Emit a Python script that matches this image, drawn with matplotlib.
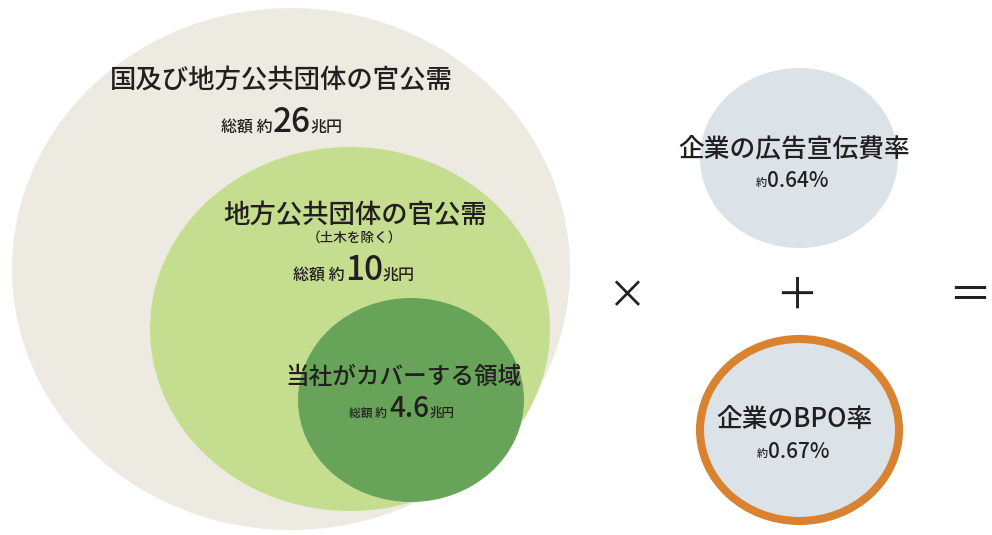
import matplotlib
matplotlib.use("Agg")
import matplotlib.pyplot as plt
from matplotlib.patches import Ellipse

plt.rcParams['font.family'] = ['Noto Sans CJK JP', 'DejaVu Sans']
plt.rcParams['font.weight'] = 'medium'

# market sizes (trillion yen) and rates (%)
market_names = ["国及び地方公共団体の官公需", "地方公共団体の官公需", "当社がカバーする領域"]
market_notes = ["", "（土木を除く）", ""]
market_totals = [26, 10, 4.6]
rate_names = ["企業の広告宣伝費率", "企業のBPO率"]
rate_values = [0.64, 0.67]

TEXT = "#231f20"

# nested market circles: (cx, cy, rx, ry, colour)
market_circles = [
    (291, 269, 279, 261, "#edebe1"),
    (350, 329, 200, 182, "#c5dd8e"),
    (411, 400, 113, 102, "#68a35a"),
]

fig = plt.figure(figsize=(9.92, 5.35), dpi=100)
ax = fig.add_axes([0, 0, 1, 1])
ax.set_xlim(0, 992)
ax.set_ylim(535, 0)
ax.axis("off")

for cx, cy, rx, ry, col in market_circles:
    ax.add_patch(Ellipse((cx, cy), 2 * rx, 2 * ry, facecolor=col, edgecolor="none"))

# rate circles
ax.add_patch(Ellipse((799, 158), 198, 180, facecolor="#dce3e8", edgecolor="none"))
ax.add_patch(Ellipse((799.5, 430), 199, 182, facecolor="#dce3e8",
                     edgecolor="#d9822f", linewidth=5.8))

renderer = fig.canvas.get_renderer()


def draw_runs(x, y, runs):
    # runs: list of (text, fontsize); laid out on one baseline, centred on x
    texts = [ax.text(0, y, s, fontsize=fs, ha="left", va="baseline", color=TEXT)
             for s, fs in runs]
    widths = [t.get_window_extent(renderer).width for t in texts]
    left = x - sum(widths) / 2
    for t, w in zip(texts, widths):
        t.set_x(left)
        left += w


def fmt(v):
    return f"{v:g}"


# market labels
draw_runs(281, 88, [(market_names[0], 19)])
draw_runs(282, 132, [("総額 約", 11.5), (fmt(market_totals[0]), 24), ("兆円", 11.5)])

draw_runs(355, 223, [(market_names[1], 19)])
draw_runs(354, 243, [(market_notes[1], 9.8)])
draw_runs(354, 280, [("総額 約", 11.5), (fmt(market_totals[1]), 24), ("兆円", 11.5)])

draw_runs(403, 384, [(market_names[2], 17)])
draw_runs(402, 417, [("総額 約 ", 8.5), (fmt(market_totals[2]), 20), ("兆円", 9)])

# rate labels
draw_runs(794, 156, [(rate_names[0], 18.5)])
draw_runs(792, 187, [("約", 8), (f"{rate_values[0]:.2f}%", 15)])
draw_runs(794, 427, [(rate_names[1], 18.5)])
draw_runs(793, 458, [("約", 8), (f"{rate_values[1]:.2f}%", 15)])

# operators
ax.text(627, 297, "×", fontsize=28, ha="center", va="center", color=TEXT,
        fontweight="normal")
ax.text(797, 297, "＋", fontsize=31, ha="center", va="center", color=TEXT,
        fontweight="normal")
ax.text(991, 297, "＝", fontsize=31, ha="right", va="center", color=TEXT,
        fontweight="normal")

fig.savefig("out.png", dpi=100)
